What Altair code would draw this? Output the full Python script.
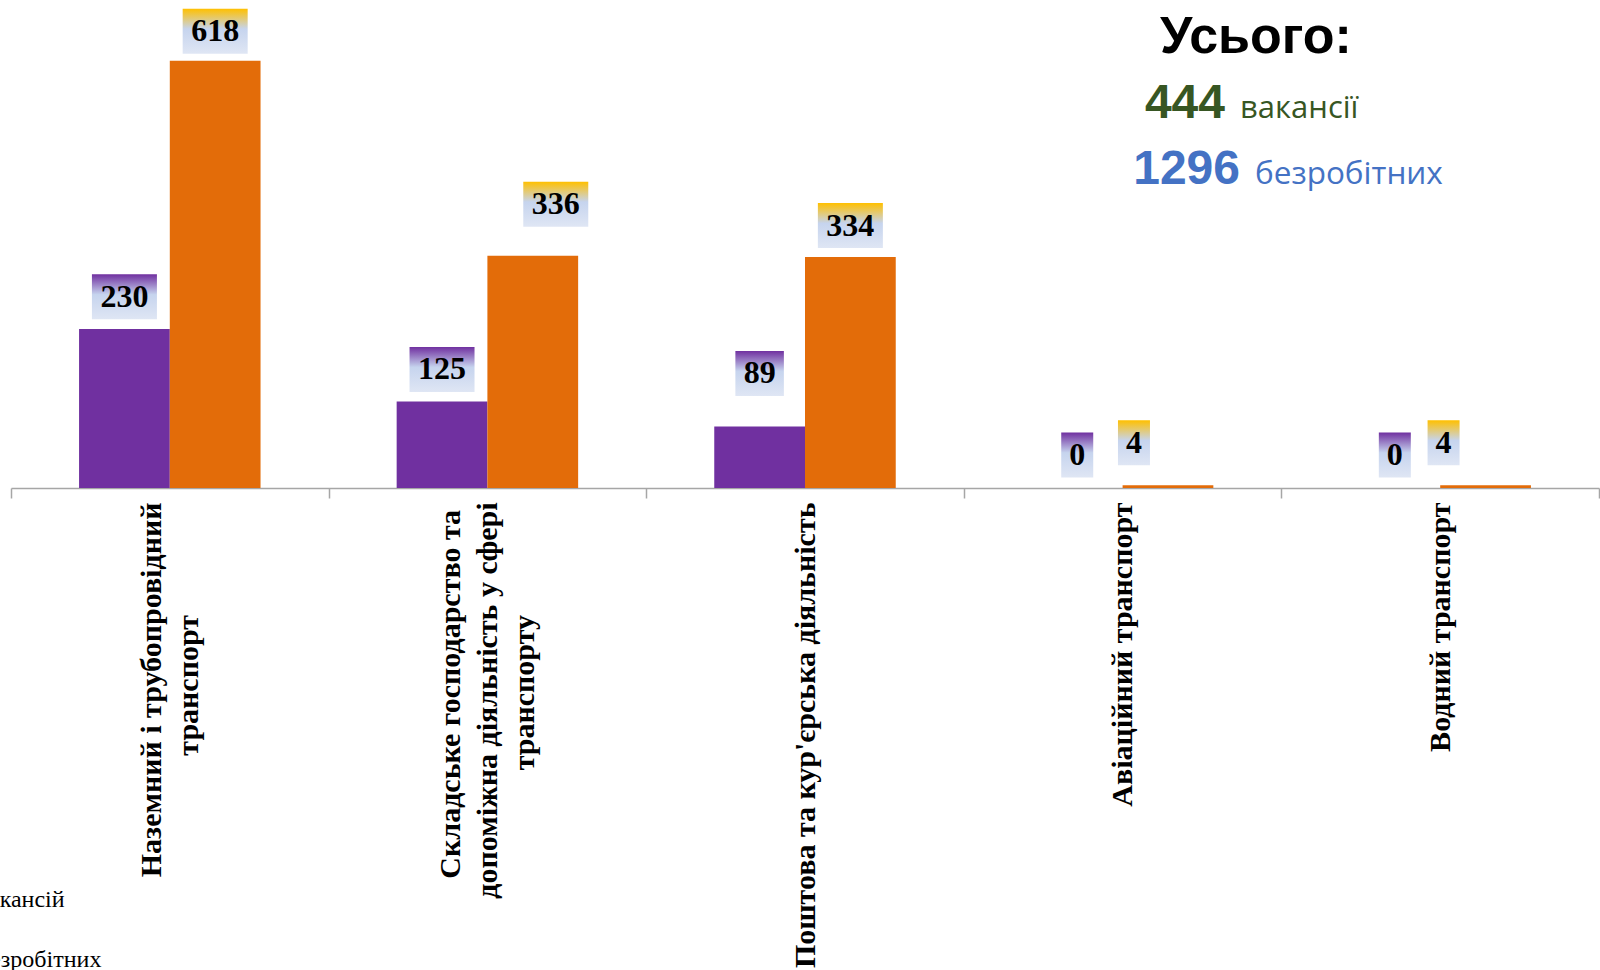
import json
import altair as alt
import pandas as pd

# ---------------- data ----------------
categories = [
    "Наземний і трубопровідний транспорт",
    "Складське господарство та допоміжна діяльність у сфері транспорту",
    "Поштова та кур'єрська діяльність",
    "Авіаційний транспорт",
    "Водний транспорт",
]
series = ["вакансій", "безробітних"]
vacancies = [230, 125, 89, 0, 0]
unemployed = [618, 336, 334, 4, 4]
total_vacancies = 444
total_unemployed = 1296

# axis label lines; no-break-space padding (kept by a zero-width guard) centres shorter lines
NB = "\u00a0"
ZW = "\u200b"


def pad(s, n):
    return s + NB * n + ZW if n else s


label_lines = {
    categories[0]: ["Наземний і трубопровідний", pad("транспорт", 15)],
    categories[1]: [pad("Складське господарство та", 1),
                    "допоміжна діяльність у сфері",
                    pad("транспорту", 15)],
    categories[2]: ["Поштова та кур'єрська діяльність"],
    categories[3]: ["Авіаційний транспорт"],
    categories[4]: ["Водний транспорт"],
}

# label box nudges (px), as placed in the original
lift_vac = [9.6, 9.6, 30.5, 10.5, 10.5]
lift_unemp = [7, 29, 9, 20, 20]
dx_vac = [0, 0, 0, 0, 0]
dx_unemp = [0, 23, 0, -34, -42]

# ---------------- style ----------------
PURPLE = "#7030A0"
ORANGE = "#E36C09"
PLOT_W, PLOT_H = 1588, 484
Y_MAX = 700
PPU = PLOT_H / Y_MAX
STEP = PLOT_W / len(categories)
SUB = STEP / 3.5
BOX_H = 45
LINE_H = 37

rows = []
for i, c in enumerate(categories):
    rows.append(dict(cat=c, series=series[0], value=vacancies[i], lift=lift_vac[i],
                     dx=dx_vac[i] - SUB / 2, top=PURPLE))
    rows.append(dict(cat=c, series=series[1], value=unemployed[i], lift=lift_unemp[i],
                     dx=dx_unemp[i] + SUB / 2, top="#FFC000"))
df = pd.DataFrame(rows)
df["y_lo"] = df["value"] + df["lift"] / PPU
df["y_hi"] = df["y_lo"] + BOX_H / PPU
df["y_mid"] = (df["y_lo"] + df["y_hi"]) / 2
df["label"] = df["value"].astype(str)
df["rid"] = range(len(df))

# label expression
expr = ""
for c in categories:
    expr += f"datum.value == {json.dumps(c)} ? {json.dumps(label_lines[c])} : "
expr += "datum.label"

# centre multi-line label blocks on their band
offset_conditions = []
for c in categories:
    n = len(label_lines[c])
    if n > 1:
        offset_conditions.append({"test": f"datum.value == {json.dumps(c)}",
                                  "value": -(n - 1) * LINE_H / 2})

x_scale = alt.Scale(domain=categories, paddingInner=0, paddingOuter=0)
y_scale = alt.Scale(domain=[0, Y_MAX], nice=False, zero=True)

x_axis = alt.Axis(
    title=None, labelAngle=270, labelAlign="right", labelBaseline="middle",
    tickBand="extent", tickSize=10, tickColor="#A6A6A6", domainColor="#A6A6A6",
    domainWidth=1.5, tickWidth=1.5,
    labelFont="Liberation Serif", labelFontWeight="bold", labelFontSize=30,
    labelColor="black", labelLimit=1000, labelPadding=4, labelLineHeight=LINE_H,
    labelOverlap=False, labelExpr=expr, grid=False,
    labelOffset={"condition": offset_conditions, "value": 0},
)

base = alt.Chart(df)

bars = base.mark_bar().encode(
    x=alt.X("cat:N", scale=x_scale, axis=x_axis, sort=categories),
    xOffset=alt.XOffset("series:N", sort=series,
                        scale=alt.Scale(domain=series, paddingInner=0, paddingOuter=0.75)),
    y=alt.Y("value:Q", scale=y_scale, axis=None),
    color=alt.Color("series:N", sort=series,
                    scale=alt.Scale(domain=series, range=[PURPLE, ORANGE]),
                    legend=alt.Legend(orient="none", legendX=-67, legendY=884, title=None,
                                      labelFont="Liberation Serif", labelFontSize=24,
                                      labelColor="black", symbolType="square",
                                      symbolSize=100, rowPadding=36, labelOffset=10,
                                      padding=0, labelLimit=500, direction="vertical")),
)

layers = [bars]
for _, r in df.iterrows():
    w = 15.5 + 16.5 * len(r["label"])
    grad = alt.LinearGradient(
        gradient="linear", x1=0, x2=0, y1=0, y2=1,
        stops=[alt.GradientStop(color=r["top"], offset=0),
               alt.GradientStop(color="#C6D4EE", offset=0.45),
               alt.GradientStop(color="#DFE6F4", offset=1)],
    )
    sub = base.transform_filter(alt.datum.rid == int(r["rid"]))
    box = sub.mark_bar(width=w, xOffset=float(r["dx"]), fill=grad).encode(
        x=alt.X("cat:N", scale=x_scale, sort=categories),
        y=alt.Y("y_lo:Q", scale=y_scale),
        y2="y_hi:Q",
    )
    txt = sub.mark_text(dx=float(r["dx"]), font="Liberation Serif", fontWeight="bold",
                        fontSize=32, color="black", baseline="middle", align="center").encode(
        x=alt.X("cat:N", scale=x_scale, sort=categories),
        y=alt.Y("y_mid:Q", scale=y_scale),
        text="label:N",
    )
    layers += [box, txt]


def note(text, x, y, size, color, font, weight="normal", align="left"):
    return alt.Chart(pd.DataFrame({"t": [text]})).mark_text(
        font=font, fontSize=size, fontWeight=weight, color=color, align=align,
        baseline="alphabetic",
    ).encode(text="t:N", x=alt.value(x), y=alt.value(y))


layers += [
    note("Усього:", 1245, 49, 52, "black", "Liberation Sans", "bold", "center"),
    note(str(total_vacancies), 1214, 114, 48, "#375623", "Liberation Sans", "bold", "right"),
    note("вакансії", 1229, 114, 31, "#375623", "Open Sans"),
    note(str(total_unemployed), 1229, 180, 48, "#4472C4", "Liberation Sans", "bold", "right"),
    note("безробітних", 1244, 180, 31.5, "#4472C4", "Open Sans"),
]

chart = alt.layer(*layers).properties(
    width=PLOT_W, height=PLOT_H,
    padding={"left": 11, "top": 4, "right": 1, "bottom": 482},
    autosize=alt.AutoSizeParams(type="none"),
    background="white",
).configure_view(strokeWidth=0, stroke="transparent")

chart.save("out.html", embed_options={"renderer": "svg", "actions": False})
